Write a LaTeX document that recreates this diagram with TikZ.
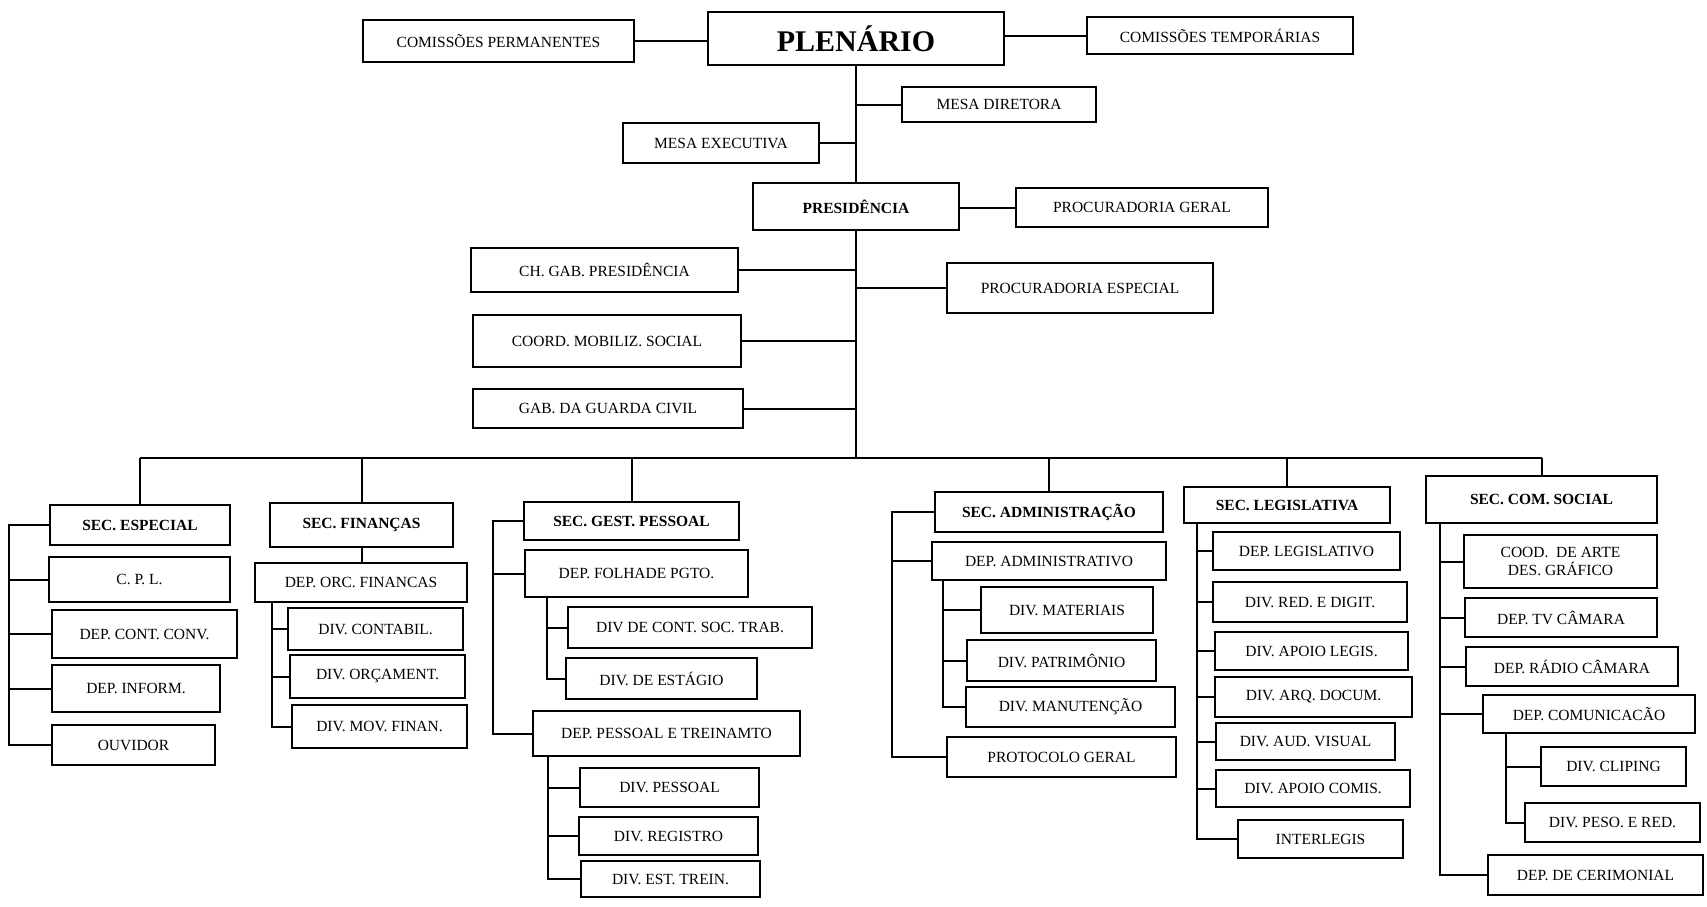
\documentclass[tikz,border=0pt]{standalone}
\usepackage{fontspec}
\setmainfont{Liberation Serif}
\begin{document}
\begin{tikzpicture}[x=1pt,y=-1pt,
  box/.style={draw, line width=1.8pt, inner sep=0pt, align=center, font=\fontsize{15.5}{18}\selectfont},
  bbox/.style={box, font=\fontsize{15.5}{18}\selectfont\bfseries},
  link/.style={line width=2pt}]
\useasboundingbox (0,0) rectangle (1707,906);

% top level
\node[box, minimum width=271pt, minimum height=42pt] (perm) at (498.5,41) {COMISSÕES PERMANENTES};
\node[bbox, font=\fontsize{30}{34}\selectfont\bfseries, minimum width=296pt, minimum height=53pt] (plen) at (856,38.5) {PLENÁRIO};
\node[box, minimum width=266pt, minimum height=37pt] (temp) at (1220,35.5) {COMISSÕES TEMPORÁRIAS};
\node[box, minimum width=194pt, minimum height=35pt] (mesadir) at (999,104.5) {MESA DIRETORA};
\node[box, minimum width=196pt, minimum height=40pt] (mesaexe) at (721,143) {MESA EXECUTIVA};
\node[bbox, minimum width=206pt, minimum height=47pt] (pres) at (856,206.5) {PRESIDÊNCIA};
\node[box, minimum width=252pt, minimum height=39pt] (procger) at (1142,207.5) {PROCURADORIA GERAL};
\node[box, minimum width=267pt, minimum height=44pt] (chgab) at (604.5,270) {CH. GAB. PRESIDÊNCIA};
\node[box, minimum width=266pt, minimum height=50pt] (procesp) at (1080,288) {PROCURADORIA ESPECIAL};
\node[box, minimum width=268pt, minimum height=52pt] (coord) at (607,341) {COORD. MOBILIZ. SOCIAL};
\node[box, minimum width=270pt, minimum height=39pt] (guarda) at (608,408.5) {GAB. DA GUARDA CIVIL};

% secretarias
\node[bbox, minimum width=180pt, minimum height=40pt] (esp) at (140,525) {SEC. ESPECIAL};
\node[bbox, minimum width=183pt, minimum height=44pt] (fin) at (361.5,525) {SEC. FINANÇAS};
\node[bbox, minimum width=215pt, minimum height=38pt] (gest) at (631.5,521) {SEC. GEST. PESSOAL};
\node[bbox, minimum width=228pt, minimum height=40pt] (admin) at (1049,512) {SEC. ADMINISTRAÇÃO};
\node[bbox, minimum width=206pt, minimum height=36pt] (leg) at (1287,505) {SEC. LEGISLATIVA};
\node[bbox, minimum width=231pt, minimum height=47pt] (com) at (1541.5,499.5) {SEC. COM. SOCIAL};

% especial
\node[box, minimum width=181pt, minimum height=45pt] (cpl) at (139.5,579.5) {C. P. L.};
\node[box, minimum width=185pt, minimum height=48pt] (contconv) at (144.5,634) {DEP. CONT. CONV.};
\node[box, minimum width=168pt, minimum height=47pt] (inform) at (136,688.5) {DEP. INFORM.};
\node[box, minimum width=163pt, minimum height=40pt] (ouvidor) at (133.5,745) {OUVIDOR};

% financas
\node[box, minimum width=212pt, minimum height=39pt] (deporc) at (361,582.5) {DEP. ORC. FINANCAS};
\node[box, minimum width=175pt, minimum height=42pt] (contabil) at (375.5,629) {DIV. CONTABIL.};
\node[box, minimum width=175pt, minimum height=43pt] (orcament) at (377.5,676.5) {DIV. ORÇAMENT.};
\node[box, minimum width=175pt, minimum height=43pt] (movfin) at (379.5,726.5) {DIV. MOV. FINAN.};

% gestao pessoal
\node[box, minimum width=223pt, minimum height=47pt] (folha) at (636.5,573.5) {DEP. FOLHADE PGTO.};
\node[box, minimum width=244pt, minimum height=41pt] (contsoc) at (690,627.5) {DIV DE CONT. SOC. TRAB.};
\node[box, minimum width=191pt, minimum height=41pt] (estagio) at (661.5,678.5) {DIV. DE ESTÁGIO};
\node[box, minimum width=267pt, minimum height=45pt] (deppess) at (666.5,733.5) {DEP. PESSOAL E TREINAMTO};
\node[box, minimum width=179pt, minimum height=39pt] (divpess) at (669.5,787.5) {DIV. PESSOAL};
\node[box, minimum width=179pt, minimum height=38pt] (registro) at (668.5,836) {DIV. REGISTRO};
\node[box, minimum width=179pt, minimum height=36pt] (esttrein) at (670.5,879) {DIV. EST. TREIN.};

% administracao
\node[box, minimum width=234pt, minimum height=38pt] (depadm) at (1049,561) {DEP. ADMINISTRATIVO};
\node[box, minimum width=172pt, minimum height=46pt] (materiais) at (1067,610) {DIV. MATERIAIS};
\node[box, minimum width=189pt, minimum height=41pt] (patrimonio) at (1061.5,660.5) {DIV. PATRIMÔNIO};
\node[box, minimum width=209pt, minimum height=40pt] (manut) at (1070.5,707) {DIV. MANUTENÇÃO};
\node[box, minimum width=229pt, minimum height=40pt] (protocolo) at (1061.5,757) {PROTOCOLO GERAL};

% legislativa
\node[box, minimum width=187pt, minimum height=38pt] (deplegis) at (1306.5,551) {DEP. LEGISLATIVO};
\node[box, minimum width=194pt, minimum height=40pt] (red) at (1310,602) {DIV. RED. E DIGIT.};
\node[box, minimum width=193pt, minimum height=38pt] (apoioleg) at (1311.5,651) {DIV. APOIO LEGIS.};
\node[box, minimum width=197pt, minimum height=40pt] (arq) at (1313.5,697) {DIV. ARQ. DOCUM.};
\node[box, minimum width=179pt, minimum height=37pt] (aud) at (1305.5,741.5) {DIV. AUD. VISUAL};
\node[box, minimum width=194pt, minimum height=37pt] (comis) at (1313,788.5) {DIV. APOIO COMIS.};
\node[box, minimum width=165pt, minimum height=38pt] (interlegis) at (1320.5,839) {INTERLEGIS};

% comunicacao social
\node[box, minimum width=193pt, minimum height=53pt] (arte) at (1560.5,561.5) {COOD.\ \ DE ARTE\\DES. GRÁFICO};
\node[box, minimum width=192pt, minimum height=39pt] (tv) at (1561,617.5) {DEP. TV CÂMARA};
\node[box, minimum width=212pt, minimum height=39pt] (radio) at (1572,666.5) {DEP. RÁDIO CÂMARA};
\node[box, minimum width=212pt, minimum height=38pt] (comunic) at (1589,714) {DEP. COMUNICACÃO};
\node[box, minimum width=145pt, minimum height=39pt] (cliping) at (1613.5,766.5) {DIV. CLIPING};
\node[box, minimum width=175pt, minimum height=39pt] (peso) at (1612.5,822.5) {DIV. PESO. E RED.};
\node[box, minimum width=215pt, minimum height=40pt] (cerimonial) at (1595.5,875) {DEP. DE CERIMONIAL};

% top connectors
\draw[link] (perm.east) -- (perm.east -| plen.west);
\draw[link] (temp.west) -- (temp.west -| plen.east);
\draw[link] (plen.south) -- (pres.north);
\draw[link] (mesadir.west) -- (mesadir.west -| plen.south);
\draw[link] (mesaexe.east) -- (mesaexe.east -| plen.south);
\draw[link] (procger.west) -- (procger.west -| pres.east);
\foreach \n in {chgab,coord,guarda} \draw[link] (\n.east) -- (\n.east -| pres.south);
\draw[link] (procesp.west) -- (procesp.west -| pres.south);

% bus
\coordinate (busy) at (0,458);
\draw[link] (pres.south) -- (pres.south |- busy);
\draw[link] (esp.north |- busy) -- (com.north |- busy);
\foreach \n in {esp,fin,gest,admin,leg,com} \draw[link] (\n.north) -- (\n.north |- busy);

% especial
\coordinate (espL) at (9,0);
\draw[link] (esp.west) -| (espL |- ouvidor.west) -- (ouvidor.west);
\foreach \n in {cpl,contconv,inform} \draw[link] (\n.west) -- (\n.west -| espL);

% financas
\draw[link] (fin.south) -- (fin.south |- deporc.north);
\coordinate (finL) at (272,0);
\draw[link] (finL |- deporc.south) |- (movfin.west);
\foreach \n in {contabil,orcament} \draw[link] (\n.west) -- (\n.west -| finL);

% gestao pessoal
\coordinate (gestL) at (493,0);
\draw[link] (gest.west) -| (gestL |- deppess.west) -- (deppess.west);
\draw[link] (folha.west) -- (folha.west -| gestL);
\coordinate (folhaL) at (547,0);
\draw[link] (folhaL |- folha.south) |- (estagio.west);
\draw[link] (contsoc.west) -- (contsoc.west -| folhaL);
\coordinate (pessL) at (548,0);
\draw[link] (pessL |- deppess.south) |- (esttrein.west);
\foreach \n in {divpess,registro} \draw[link] (\n.west) -- (\n.west -| pessL);

% administracao
\coordinate (admL) at (892,0);
\draw[link] (admin.west) -| (admL |- protocolo.west) -- (protocolo.west);
\draw[link] (depadm.west) -- (depadm.west -| admL);
\coordinate (depadmL) at (943,0);
\draw[link] (depadmL |- depadm.south) |- (manut.west);
\foreach \n in {materiais,patrimonio} \draw[link] (\n.west) -- (\n.west -| depadmL);

% legislativa
\coordinate (legL) at (1197,0);
\draw[link] (legL |- leg.south) |- (interlegis.west);
\foreach \n in {deplegis,red,apoioleg,arq,aud,comis} \draw[link] (\n.west) -- (\n.west -| legL);

% comunicacao
\coordinate (comL) at (1440,0);
\draw[link] (comL |- com.south) |- (cerimonial.west);
\foreach \n in {arte,tv,radio,comunic} \draw[link] (\n.west) -- (\n.west -| comL);
\coordinate (comuL) at (1506,0);
\draw[link] (comuL |- comunic.south) |- (peso.west);
\draw[link] (cliping.west) -- (cliping.west -| comuL);
\end{tikzpicture}
\end{document}
